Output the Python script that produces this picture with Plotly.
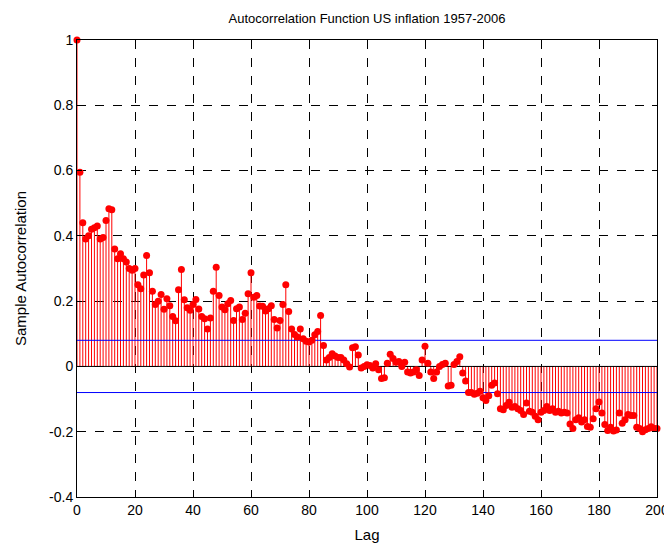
import plotly.graph_objects as go

# sample autocorrelation of US inflation, lags 0..200
lags = list(range(201))
acf = [
    1.0, 0.595, 0.44, 0.39, 0.40, 0.42, 0.425, 0.43, 0.39, 0.395,
    0.447, 0.483, 0.48, 0.36, 0.33, 0.345, 0.33, 0.32, 0.30, 0.295,
    0.30, 0.25, 0.238, 0.28, 0.34, 0.287, 0.23, 0.19, 0.20, 0.22,
    0.175, 0.207, 0.186, 0.153, 0.14, 0.235, 0.297, 0.204, 0.18, 0.172,
    0.19, 0.205, 0.176, 0.153, 0.146, 0.115, 0.148, 0.23, 0.304, 0.217,
    0.182, 0.174, 0.192, 0.202, 0.141, 0.177, 0.182, 0.144, 0.163, 0.223,
    0.287, 0.212, 0.217, 0.185, 0.184, 0.17, 0.177, 0.186, 0.144, 0.118,
    0.141, 0.19, 0.25, 0.168, 0.115, 0.098, 0.09, 0.115, 0.085, 0.077,
    0.075, 0.08, 0.097, 0.107, 0.156, 0.064, 0.02, 0.027, 0.039, 0.032,
    0.027, 0.027, 0.02, 0.008, -0.002, 0.057, 0.06, 0.035, -0.005, 0.0,
    0.005, 0.003, -0.005, 0.008, -0.01, -0.037, -0.035, 0.01, 0.037, 0.024,
    0.013, 0.015, 0.0, 0.013, -0.017, -0.02, -0.017, -0.01, -0.028, 0.02,
    0.062, 0.01, -0.017, -0.037, -0.017, 0.0, 0.006, 0.01, -0.06, -0.058,
    0.006, 0.015, 0.03, -0.02, -0.045, -0.08, -0.08, -0.085, -0.082, -0.076,
    -0.096, -0.104, -0.09, -0.058, -0.051, -0.084, -0.13, -0.133, -0.12, -0.11,
    -0.125, -0.123, -0.13, -0.135, -0.147, -0.112, -0.137, -0.14, -0.153, -0.163,
    -0.14, -0.135, -0.123, -0.135, -0.13, -0.14, -0.137, -0.143, -0.14, -0.143,
    -0.176, -0.19, -0.163, -0.157, -0.17, -0.163, -0.184, -0.186, -0.16, -0.13,
    -0.109, -0.143, -0.178, -0.196, -0.186, -0.198, -0.195, -0.143, -0.174, -0.163,
    -0.147, -0.15, -0.15, -0.186, -0.19, -0.2, -0.194, -0.19, -0.185, -0.19,
    -0.19,
]
bound = 0.08  # approx 95% confidence band

x_ticks = [0, 20, 40, 60, 80, 100, 120, 140, 160, 180, 200]
y_ticks = [-0.4, -0.2, 0, 0.2, 0.4, 0.6, 0.8, 1]
y_labels = ["-0.4", "-0.2", "0", "0.2", "0.4", "0.6", "0.8", "1"]

# stems: one segment per lag, separated by None
stem_x, stem_y = [], []
for k, v in zip(lags, acf):
    stem_x += [k, k, None]
    stem_y += [0, v, None]

fig = go.Figure()
fig.add_trace(go.Scatter(x=stem_x, y=stem_y, mode="lines",
                         line=dict(color="red", width=1), hoverinfo="skip"))
fig.add_trace(go.Scatter(x=[0, 200], y=[0, 0], mode="lines",
                         line=dict(color="black", width=1)))
fig.add_trace(go.Scatter(x=[0, 200], y=[bound, bound], mode="lines",
                         line=dict(color="blue", width=1)))
fig.add_trace(go.Scatter(x=[0, 200], y=[-bound, -bound], mode="lines",
                         line=dict(color="blue", width=1)))
fig.add_trace(go.Scatter(x=lags, y=acf, mode="markers", cliponaxis=False,
                         marker=dict(color="red", size=7)))

axis_style = dict(showline=True, linecolor="black", linewidth=1, mirror="allticks",
                  ticks="inside", ticklen=5, tickcolor="black", automargin=False,
                  showgrid=True, gridcolor="black", gridwidth=1, griddash="dash",
                  zeroline=False, tickfont=dict(size=14, color="black"))

# page body adds an 8px offset, so the figure is a bit smaller than the window
fig.update_layout(
    width=664, height=536,
    margin=dict(l=69, r=15, t=32, b=47),
    paper_bgcolor="white", plot_bgcolor="white",
    font=dict(family="Liberation Sans, Arial, sans-serif", color="black"),
    showlegend=False,
    title=dict(text="Autocorrelation Function US inflation 1957-2006",
               x=0.5, xref="paper", xanchor="center", y=0.981, yanchor="middle",
               font=dict(size=13, color="black")),
)
fig.update_xaxes(range=[0, 200], tickvals=x_ticks,
                 title=dict(text="Lag", font=dict(size=15), standoff=12), **axis_style)
fig.update_yaxes(range=[-0.4, 1], tickvals=y_ticks, ticktext=y_labels,
                 title=dict(text="Sample Autocorrelation", font=dict(size=15), standoff=18),
                 **axis_style)

fig.write_html("out.html")
